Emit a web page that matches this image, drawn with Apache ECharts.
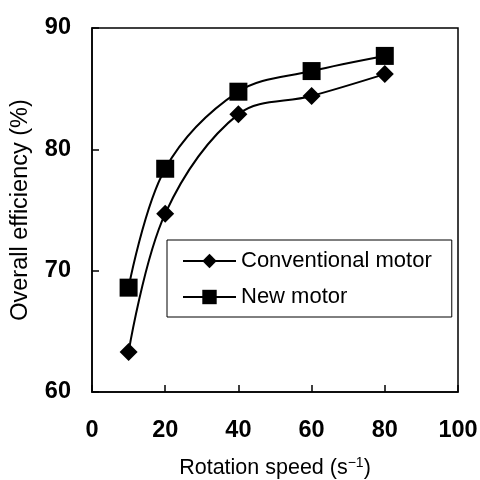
<!DOCTYPE html>
<html>
<head>
<meta charset="utf-8">
<script src="https://cdn.jsdelivr.net/npm/echarts@6/dist/echarts.min.js"></script>
<style>
  html, body { margin: 0; padding: 0; background: #fff; }
  #chart { width: 480px; height: 480px; }
</style>
</head>
<body>
<div id="chart"></div>
<script>
// Rotation speed (s^-1) at which efficiency was measured
const speeds = [10, 20, 40, 60, 80];
// Overall efficiency (%) for each motor
const conventionalMotor = [63.3, 74.7, 82.9, 84.4, 86.2];
const newMotor = [68.6, 78.4, 84.75, 86.45, 87.7];
const seriesNames = ['Conventional motor', 'New motor'];

const FONT = '"Liberation Sans", Arial, Helvetica, sans-serif';

function pairs(xs, ys) {
  return xs.map((x, i) => [x, ys[i]]);
}

const chart = echarts.init(document.getElementById('chart'), null, { renderer: 'canvas' });

chart.setOption({
  animation: false,
  backgroundColor: '#fff',
  grid: {
    left: 92, right: 22, top: 28, bottom: 88,
    outerBoundsMode: 'none',
    containLabel: false,
    show: true, borderColor: '#000', borderWidth: 1.5, backgroundColor: 'transparent'
  },
  legend: {
    orient: 'vertical',
    left: 167, top: 240,
    padding: [10, 20, 9, 15],
    itemGap: 14,
    itemWidth: 53,
    itemHeight: 18,
    borderColor: '#000',
    borderWidth: 1,
    backgroundColor: '#fff',
    textStyle: { fontFamily: FONT, fontSize: 22, color: '#000' },
    data: seriesNames
  },
  xAxis: {
    type: 'value',
    min: 0, max: 100, interval: 20,
    name: 'Rotation speed (s{sup|\u22121})',
    nameLocation: 'middle',
    nameGap: 64,
    nameTextStyle: {
      fontFamily: FONT, fontSize: 21.5, color: '#000',
      rich: { sup: { fontFamily: FONT, fontSize: 14, color: '#000', padding: [0, 0, 10, 0] } }
    },
    axisLine: { show: true, lineStyle: { color: '#000', width: 1.5 } },
    axisTick: { show: true, inside: true, length: 7, lineStyle: { color: '#000', width: 1.5 } },
    axisLabel: { fontFamily: FONT, fontSize: 23.5, fontWeight: 'bold', color: '#000', margin: 27 },
    splitLine: { show: false }
  },
  yAxis: {
    type: 'value',
    min: 60, max: 90, interval: 10,
    name: 'Overall efficiency (%)',
    nameLocation: 'middle',
    nameGap: 59,
    nameTextStyle: { fontFamily: FONT, fontSize: 23.5, color: '#000' },
    axisLine: { show: true, lineStyle: { color: '#000', width: 1.5 } },
    axisTick: { show: true, inside: true, length: 7, lineStyle: { color: '#000', width: 1.5 } },
    axisLabel: { fontFamily: FONT, fontSize: 23.5, fontWeight: 'bold', color: '#000', margin: 21 },
    splitLine: { show: false }
  },
  series: [
    {
      name: seriesNames[0],
      type: 'line',
      data: pairs(speeds, conventionalMotor),
      smooth: 0.35,
      symbol: 'diamond',
      symbolSize: 18,
      itemStyle: { color: '#000' },
      lineStyle: { color: '#000', width: 2 }
    },
    {
      name: seriesNames[1],
      type: 'line',
      data: pairs(speeds, newMotor),
      smooth: 0.35,
      symbol: 'rect',
      symbolSize: 18,
      itemStyle: { color: '#000' },
      lineStyle: { color: '#000', width: 2 }
    }
  ]
});
</script>
</body>
</html>
